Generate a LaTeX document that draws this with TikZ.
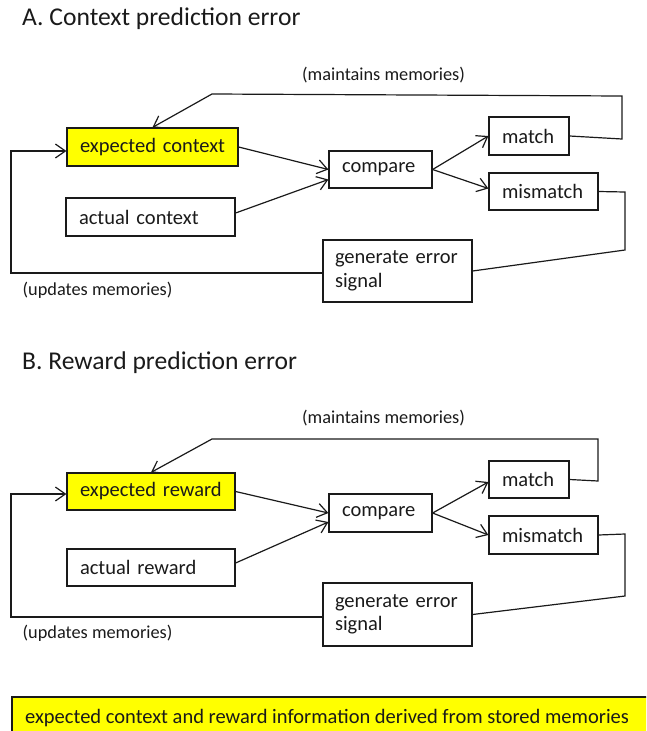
\documentclass[tikz,border=0pt]{standalone}
\usepackage{fontspec}
\setmainfont{Carlito}
\usetikzlibrary{arrows.meta}
\definecolor{hl}{HTML}{FFFF00}
\definecolor{ink}{HTML}{1A1A1A}
\newcommand\boxfont{\fontsize{20.5}{23.5}\selectfont}
\newcommand\lblfont{\fontsize{18.3}{22}\selectfont}
\newcommand\ttlfont{\fontsize{25.6}{30}\selectfont}
\begin{document}
\begin{tikzpicture}[x=1pt,y=-1pt,
  box/.style={draw=ink, line width=1.2pt, inner xsep=13pt, inner ysep=0pt, align=left, font=\boxfont, text=ink},
  hlbox/.style={box, fill=hl},
  conn/.style={draw=ink, line width=1.2pt},
  arr/.style={conn, -{Straight Barb[length=10pt,width=14pt,line width=1.2pt]}},
  lbl/.style={font=\lblfont, text=ink, inner sep=0pt, anchor=base west},
  ttl/.style={font=\ttlfont, text=ink, inner sep=0pt, anchor=base west}]
\useasboundingbox (0,0) rectangle (646,731);
\clip (0,0) rectangle (646,731);

% ---------- Panel A ----------
\node[ttl] (tA) at (22,25.5) {A. Context prediction error};
\node[hlbox, text width=145pt, minimum height=38pt] (ecA) at (152.5,147) {\mbox{expected context}};
\node[box, text width=143pt, minimum height=38pt] (acA) at (150.5,217) {\mbox{actual context}};
\node[box, text width=77pt, minimum height=37pt] (cmpA) at (380.5,169.5) {\mbox{compare}};
\node[box, text width=54pt, minimum height=38pt] (mA) at (529,136) {\mbox{match}};
\node[box, text width=83pt, minimum height=37pt] (mmA) at (543.5,191.5) {\mbox{mismatch}};
\node[box, text width=125pt, inner xsep=12pt, minimum height=62pt] (genA) at (397.5,271) {\mbox{generate error}\\\mbox{signal}};
\node[lbl] (maA) at (302,80.5) {(maintains memories)};
\node[lbl] (upA) at (22.5,295) {(updates memories)};

\coordinate (tA1) at (622,139);
\coordinate (tA2) at (622,96);
\coordinate (tA3) at (212,94);
\coordinate (lA1) at (11,273);
\coordinate (lA2) at (11,151);
\coordinate (rA1) at (625,192);
\coordinate (rA2) at (625,250);

\draw[arr] (ecA.east) -- (cmpA.west);
\draw[arr] ([yshift=4pt]acA.east) -- ([yshift=-10pt]cmpA.west);
\draw[arr] (cmpA.east) -- (mA.west);
\draw[arr] (cmpA.east) -- ([yshift=3pt]mmA.west);
\draw[arr] (mA.east) -- (tA1) -- (tA2) -- (tA3) -- (ecA.north);
\draw[conn] (mmA.east) -- (rA1) -- (rA2) -- (genA.east);
\draw[arr] (genA.west |- lA1) -- (lA1) -- (lA2) -- (ecA.west |- lA2);

% ---------- Panel B ----------
\node[ttl] (tB) at (22,369.5) {B. Reward prediction error};
\node[hlbox, text width=142pt, minimum height=37pt] (erB) at (151,491.5) {\mbox{expected reward}};
\node[box, text width=142pt, minimum height=37pt] (arB) at (151,567.5) {\mbox{actual reward}};
\node[box, text width=77pt, minimum height=38pt] (cmpB) at (380.5,513) {\mbox{compare}};
\node[box, text width=54pt, minimum height=37pt] (mB) at (529,479.5) {\mbox{match}};
\node[box, text width=83pt, minimum height=38pt] (mmB) at (543.5,535) {\mbox{mismatch}};
\node[box, text width=125pt, inner xsep=12pt, minimum height=63pt] (genB) at (397.5,614.5) {\mbox{generate error}\\\mbox{signal}};
\node[lbl] (maB) at (302,423) {(maintains memories)};
\node[lbl] (upB) at (22.5,638) {(updates memories)};

\coordinate (tB1) at (598,481);
\coordinate (tB2) at (598,439);
\coordinate (tB3) at (212,439);
\coordinate (lB1) at (11,617);
\coordinate (lB2) at (11,494);
\coordinate (rB1) at (625,534);
\coordinate (rB2) at (625,596);

\draw[arr] (erB.east) -- (cmpB.west);
\draw[arr] ([yshift=4.5pt]arB.east) -- ([yshift=-9pt]cmpB.west);
\draw[arr] (cmpB.east) -- ([yshift=-2.5pt]mB.west);
\draw[arr] (cmpB.east) -- (mmB.west);
\draw[arr] (mB.east) -- (tB1) -- (tB2) -- (tB3) -- (erB.north);
\draw[conn] (mmB.east) -- (rB1) -- (rB2) -- (genB.east);
\draw[arr] (genB.west |- lB1) -- (lB1) -- (lB2) -- (erB.west |- lB2);

% ---------- Bottom legend ----------
\draw[ink, fill=hl, line width=1.2pt] (12,697) rectangle (700,780);
\node[inner sep=0pt, anchor=base west, font=\boxfont, text=ink] (memo) at (25,723) {expected context and reward information derived from stored memories};
\end{tikzpicture}
\end{document}
